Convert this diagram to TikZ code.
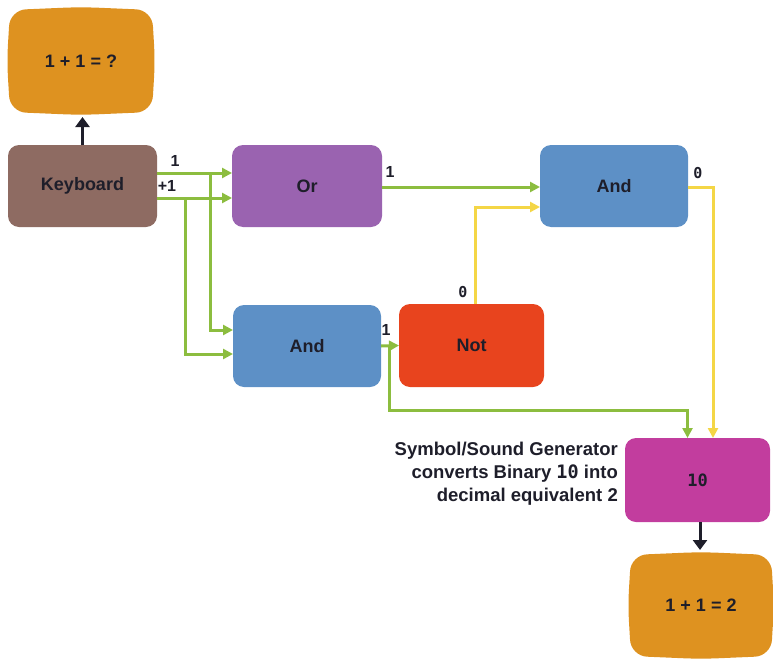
\documentclass[tikz,border=0pt]{standalone}
\usepackage{fontspec}
\setmainfont{Liberation Sans}
\newfontfamily\monofont{DejaVu Sans Mono}
\usetikzlibrary{arrows.meta,calc}
\definecolor{cscreen}{RGB}{222,146,32}
\definecolor{ckb}{RGB}{142,107,98}
\definecolor{cor}{RGB}{154,99,176}
\definecolor{cand}{RGB}{93,144,198}
\definecolor{cnot}{RGB}{232,68,30}
\definecolor{cten}{RGB}{194,61,158}
\definecolor{cgreen}{RGB}{140,189,63}
\definecolor{cyellow}{RGB}{244,214,70}
\definecolor{ctext}{RGB}{30,30,42}
\newcommand\tvshape[4]{%
 \fill[cscreen, rounded corners=16pt] ({(#1+#3)/2},#2-3) -- (#3,#2) -- (#3+3,{(#2+#4)/2})
  -- (#3,#4) -- ({(#1+#3)/2},#4+3) -- (#1,#4) -- (#1-3,{(#2+#4)/2}) -- (#1,#2) -- cycle;}
\tikzset{
  gate/.style={rounded corners=11pt, minimum width=148pt, minimum height=82pt,
    inner sep=0pt, outer sep=0pt, text=ctext, font=\fontsize{18}{21}\selectfont\bfseries},
  scr/.style={inner sep=0pt, outer sep=0pt, text=ctext, font=\fontsize{18}{21}\selectfont\bfseries},
  gw/.style={draw=cgreen, line width=3pt, -{Triangle[length=10pt,width=10pt]}, line join=miter},
  yw/.style={draw=cyellow, line width=3pt, -{Triangle[length=10pt,width=10pt]}},
  bw/.style={draw=ctext, line width=3pt, -{Triangle[length=10pt,width=14pt]}, shorten >=5pt},
  lab/.style={inner sep=0pt, text=ctext, font=\fontsize{16}{18}\selectfont\bfseries},
  zlab/.style={inner sep=0pt, text=ctext, font=\fontsize{15}{17}\selectfont\monofont\bfseries},
  side/.style={inner sep=0pt, align=right, text=ctext, font=\fontsize{18.5}{23}\selectfont\bfseries}
}
\begin{document}
\begin{tikzpicture}[x=1pt,y=-1pt]
\useasboundingbox (0,0) rectangle (773,661);
% screens
\tvshape{10}{10}{152}{112}
\node[scr, minimum width=142pt, minimum height=102pt] (scr1) at (81,61) {1 + 1 = ?};
\tvshape{631}{555}{771}{656}
\node[scr, minimum width=140pt, minimum height=101pt] (scr2) at (701,605.5) {1 + 1 = 2};
% gates
\node[gate, fill=ckb, minimum width=149pt] (kb) at (82.5,186) {Keyboard};
\node[gate, fill=cor, minimum width=150pt] (or) at (307,186) {Or};
\node[gate, fill=cand] (andT) at (614,186) {And};
\node[gate, fill=cand] (andB) at (307,346) {And};
\node[gate, fill=cnot, minimum width=145pt, minimum height=83pt] (not) at (471.5,345.5) {Not};
\node[gate, fill=cten, minimum width=145pt, minimum height=84pt, font=\fontsize{17}{20}\selectfont\monofont\bfseries] (ten) at (697.5,480) {10};
% junctions
\coordinate (j1) at (210,173);
\coordinate (j2) at (185,198);
\coordinate (j3) at (389,346);
\coordinate (c4) at (600,410);
% wires
\draw[gw] (j1) |- ([yshift=16pt]andB.west);
\draw[gw] (j2) |- ([yshift=-8pt]andB.west);
\draw[gw] ([yshift=13pt]kb.east) -- ([yshift=13pt]or.west);
\draw[gw] ([yshift=-12pt]kb.east) -- ([yshift=-12pt]or.west);
\draw[gw] ([yshift=-1pt]or.east) -- ([yshift=-1pt]andT.west);
\draw[gw] (j3) |- (c4) -| ([xshift=-10pt]ten.north);
\draw[gw] (andB.east) -- (not.west);
\draw[yw] ([xshift=3.5pt]not.north) |- ([yshift=-21pt]andT.west);
\draw[yw] ([yshift=-1pt]andT.east) -| ([xshift=15.5pt]ten.north);
% black arrows
\draw[bw] (kb.north) -- (kb.north |- scr1.south);
\draw[bw] ([xshift=2.5pt]ten.south) -- ([xshift=2.5pt]ten.south |- scr2.north);
% labels
\node[lab] (l1) at (175,161) {1};
\node[lab] (l2) at (167,186) {+1};
\node[lab] (l3) at (390,172) {1};
\node[zlab] (l4) at (698,173) {0};
\node[zlab] (l5) at (463,292) {0};
\node[lab] (l6) at (386,330) {1};
\node[side, anchor=east] (txt) at (618,474) {Symbol/Sound Generator\\converts Binary {\monofont 10} into\\decimal equivalent 2};
\end{tikzpicture}
\end{document}
